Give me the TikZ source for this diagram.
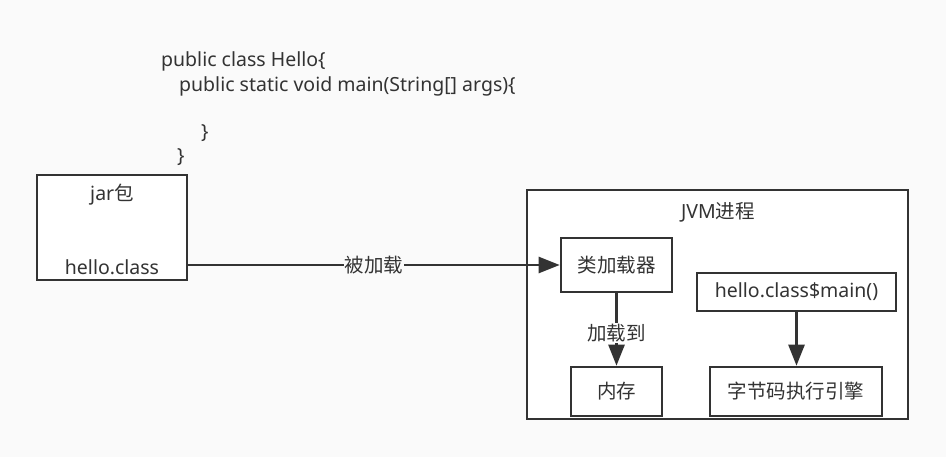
\documentclass[tikz,border=0pt]{standalone}
\usepackage{fontspec}
\setmainfont{Noto Sans}
\newfontfamily\cjk{Noto Sans CJK SC}
\usetikzlibrary{arrows.meta}
\definecolor{bg}{RGB}{250,250,250}
\definecolor{ink}{RGB}{51,51,51}
\begin{document}
\begin{tikzpicture}[x=1pt,y=-1pt,
  box/.style={draw=ink, line width=2.6pt, fill=white, inner sep=0pt},
  txt/.style={inner sep=0pt, text=ink, font=\fontsize{19.5}{22}\selectfont},
  ctxt/.style={txt, font=\cjk\fontsize{19.5}{22}\selectfont},
  conn/.style={draw=ink, line width=2.6pt, -{Triangle[length=21pt,width=16pt]}},
  lbl/.style={ctxt, fill=bg, inner sep=1pt}
]
\fill[bg] (0,0) rectangle (946,457);
\useasboundingbox (0,0) rectangle (946,457);
% code
\node[txt, anchor=west] (c1) at (161,61) {public class Hello\{};
\node[txt, anchor=west] (c2) at (179,86) {public static void main(String[] args)\{};
\node[txt, anchor=west] (c3) at (201,133) {\}};
\node[txt, anchor=west] (c4) at (177,157) {\}};
% jar box
\node[box, minimum width=150pt, minimum height=105pt] (jar) at (112,227.5) {};
\node[txt] (jart) at (112,195) {jar{\cjk 包}};
\node[txt] (hello) at (112,267) {hello.class};
% JVM
\node[box, minimum width=381pt, minimum height=229pt] (jvm) at (717.5,304.5) {};
\node[txt] (jvmt) at (718,212) {JVM{\cjk 进程}};
\node[box, minimum width=111pt, minimum height=54pt] (loader) at (616.5,265) {};
\node[ctxt] at (loader) {类加载器};
\node[box, minimum width=199pt, minimum height=38pt] (main) at (796.5,292) {};
\node[txt] at (main) {hello.class\$main()};
\node[box, minimum width=91pt, minimum height=49pt] (mem) at (616.5,391.5) {};
\node[ctxt] at (mem) {内存};
\node[box, minimum width=172pt, minimum height=49pt] (eng) at (796,391.5) {};
\node[ctxt] at (eng) {字节码执行引擎};
% connectors
\draw[conn] (jar.east |- loader.west) -- node[lbl, pos=0.5] {被加载} (loader.west);
\draw[conn] (loader.south) -- node[lbl, pos=0.55, fill=white] {加载到} (mem.north);
\draw[conn] (main.south) -- (main.south |- eng.north);
\end{tikzpicture}
\end{document}
